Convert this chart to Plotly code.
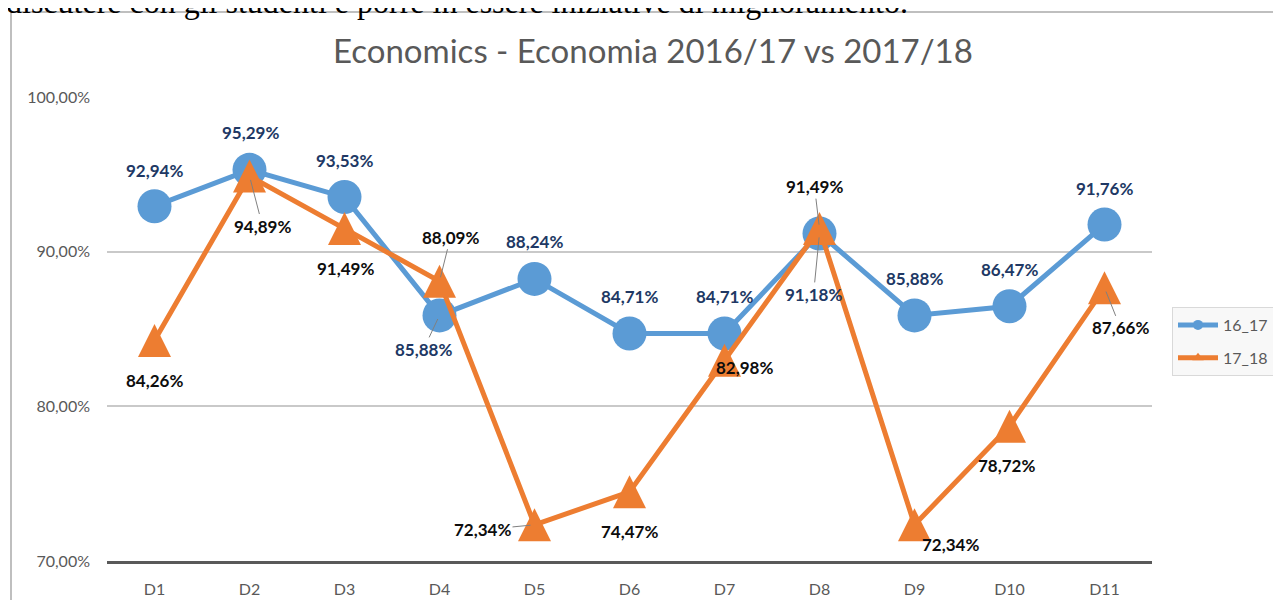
import plotly.graph_objects as go

categories = ["D1", "D2", "D3", "D4", "D5", "D6", "D7", "D8", "D9", "D10", "D11"]
series_1617 = [92.94, 95.29, 93.53, 85.88, 88.24, 84.71, 84.71, 91.18, 85.88, 86.47, 91.76]
series_1718 = [84.26, 94.89, 91.49, 88.09, 72.34, 74.47, 82.98, 91.49, 72.34, 78.72, 87.66]
y_ticks = [70, 80, 90, 100]
title_text = "Economics - Economia 2016/17 vs 2017/18"
top_text = "discutere con gli studenti e porre in essere iniziative di miglioramento."

# label offsets in px (dx, dy) and whether a leader line is drawn
offs_1617 = [(0, -36), (1, -37), (0, -37), (-16, 34, True), (0, -37), (0, -37), (0, -37),
             (-6, 61, True), (0, -37), (0, -37), (0, -36)]
offs_1718 = [(0, 40), (13, 50, True), (1, 40), (11, -44, True), (-52, 5, True), (0, 40),
             (20, 7), (-5, -42, True), (36, 20), (-3, 39), (16, 40, True)]

BLUE = "#5B9BD5"
ORANGE = "#ED7D31"
GRAY = "#595959"
FONT = "Lato"

OFF = 8  # page body margin in the browser
W, H = 1281, 600
# plot area in screenshot pixels
PL, PR, PT, PB = 107, 1152, 97, 561
L, T = PL - OFF, PT - OFF
R, B = W - (PR - OFF), H - (PB - OFF)
pw, ph = PR - PL, PB - PT


def px_x(p):
    return (p - PL) / pw


def px_y(p):
    return (PB - p) / ph


def fmt(v):
    return f"{v:.2f}".replace(".", ",") + "%"


fig = go.Figure()

fig.add_trace(go.Scatter(
    x=categories, y=series_1617, mode="lines+markers", name="16_17", showlegend=False,
    line=dict(color=BLUE, width=5),
    marker=dict(symbol="circle", size=34, color=BLUE),
    cliponaxis=False, hoverinfo="skip"))

fig.add_trace(go.Scatter(
    x=categories, y=series_1718, mode="lines+markers", name="17_18", showlegend=False,
    line=dict(color=ORANGE, width=5, backoff=0),
    marker=dict(symbol="arrow-down", size=33, color=ORANGE, angle=180, standoff=16.5),
    cliponaxis=False, hoverinfo="skip"))

# legend-only traces
fig.add_trace(go.Scatter(x=[None], y=[None], mode="lines+markers", name="16_17",
                         legendgroup="a", line=dict(color=BLUE, width=5),
                         marker=dict(symbol="circle", size=10, color=BLUE)))
fig.add_trace(go.Scatter(x=[None], y=[None], mode="lines+markers", name="17_18",
                         legendgroup="b", line=dict(color=ORANGE, width=5),
                         marker=dict(symbol="triangle-up", size=10, color=ORANGE)))

annotations = []
for series, offs, color in ((series_1617, offs_1617, "#203864"), (series_1718, offs_1718, "#0D0D0D")):
    for c, v, o in zip(categories, series, offs):
        dx, dy = o[0], o[1]
        leader = len(o) > 2
        if leader:
            annotations.append(dict(
                x=c, y=v, xref="x", yref="y", text=fmt(v), showarrow=True,
                ax=dx, ay=dy, arrowhead=0, arrowwidth=1, arrowcolor="#808080",
                standoff=4, font=dict(family=FONT, size=17, color=color, weight="bold")))
        else:
            annotations.append(dict(
                x=c, y=v, xref="x", yref="y", text=fmt(v), showarrow=False,
                xshift=dx, yshift=-dy,
                font=dict(family=FONT, size=17, color=color, weight="bold")))

annotations.append(dict(
    x=px_x(653), y=px_y(50), xref="paper", yref="paper", text=title_text,
    showarrow=False, xanchor="center", yanchor="middle",
    font=dict(family=FONT, size=33, color=GRAY)))

annotations.append(dict(
    x=px_x(4), y=px_y(2), xref="paper", yref="paper", text=top_text,
    showarrow=False, xanchor="left", yanchor="middle",
    font=dict(family="Liberation Serif", size=32, color="#000000")))

shapes = [dict(type="rect", xref="paper", yref="paper",
               x0=px_x(11), x1=px_x(1300), y0=px_y(12), y1=px_y(640),
               line=dict(color="#BFBFBF", width=2), fillcolor="rgba(0,0,0,0)", layer="below")]

fig.update_layout(
    template="none",
    width=W, height=H,
    margin=dict(l=L, r=R, t=T, b=B, autoexpand=False),
    paper_bgcolor="white", plot_bgcolor="white",
    separators=",.",
    annotations=annotations,
    shapes=shapes,
    showlegend=True,
    legend=dict(x=px_x(1172), y=px_y(307), xanchor="left", yanchor="top",
                bgcolor="#F8F8F8", bordercolor="#D9D9D9", borderwidth=1,
                font=dict(family=FONT, size=16, color=GRAY),
                tracegroupgap=9, itemwidth=40, traceorder="grouped"),
    xaxis=dict(type="category", range=[-0.5, 10.5], showgrid=False, zeroline=False,
               automargin=False,
               showline=True, linecolor=GRAY, linewidth=3,
               ticks="", ticklabelstandoff=12,
               tickfont=dict(family=FONT, size=16, color=GRAY)),
    yaxis=dict(range=[70, 100], tickvals=y_ticks, ticktext=[fmt(t) for t in y_ticks],
               automargin=False,
               showgrid=True, gridcolor="#C9C9C9", gridwidth=2, zeroline=False,
               showline=False, ticks="", ticklabelstandoff=16,
               tickfont=dict(family=FONT, size=16, color=GRAY)),
)

fig.write_html("out.html")
